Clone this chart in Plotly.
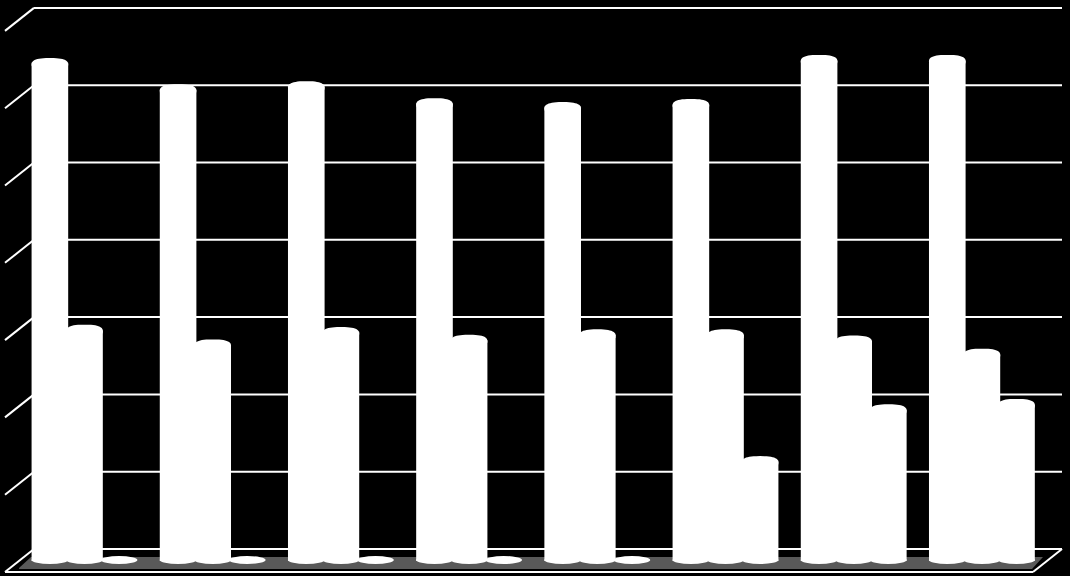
"""Cylinder-style grouped bars on black, with a slanted wall grid and floor."""

import math

import plotly.graph_objects as go

W, H = 1070, 576

categories = [0, 1, 2, 3, 4, 5, 6, 7]
series_a = [64.1, 60.7, 61.1, 58.9, 58.4, 58.8, 64.5, 64.5]
series_b = [29.6, 27.7, 29.3, 28.3, 29.0, 29.0, 28.2, 26.5]
series_c = [0, 0, 0, 0, 0, 12.6, 19.3, 20.0]
grid_ticks = [0, 10, 20, 30, 40, 50, 60, 70]

# Pixel layout of the fake 3D box
PX_PER_UNIT = 7.73
ZERO_PX = 560        # bar baseline
WALL_ZERO_PX = 549   # where tick 0 meets the back wall
WALL_LEFT, WALL_RIGHT = 34, 1062
DEPTH_X, DEPTH_Y = 29, 23
GROUP0_PX, GROUP_STEP_PX = 84.5, 128.2
BAR_W = 0.27         # in category units
CAP_PX, BASE_PX = 6.5, 4
CAP_POWER = 2.6      # >2 flattens the cap, closer to the original's rendering


def paper(px, py):
    return px / W, 1 - py / H


def line(x0, y0, x1, y1):
    ax, ay = paper(x0, y0)
    bx, by = paper(x1, y1)
    return dict(type="line", xref="paper", yref="paper", x0=ax, y0=ay, x1=bx, y1=by,
                layer="below", line=dict(color="white", width=2))


def cap_path(cx, cy, rx, ry):
    pts = []
    for k in range(48):
        a = 2 * math.pi * k / 48
        c, s = math.cos(a), math.sin(a)
        pts.append((cx + rx * math.copysign(abs(c) ** (2 / CAP_POWER), c),
                    cy + ry * math.copysign(abs(s) ** (2 / CAP_POWER), s)))
    return "M " + " L ".join(f"{x:.4f},{y:.4f}" for x, y in pts) + " Z"


shapes = []

# floor first so the grid sits on top of it
pts = [paper(*p) for p in [(19, 568), (31, 557), (1043, 557), (1032, 569), (19, 569)]]
path = "M " + " L ".join(f"{x},{y}" for x, y in pts) + " Z"
shapes.append(dict(type="path", xref="paper", yref="paper", path=path, layer="below",
                   fillcolor="#595959", line=dict(width=0)))

for t in grid_ticks:
    y = WALL_ZERO_PX - t * PX_PER_UNIT
    shapes.append(line(WALL_LEFT, y, WALL_RIGHT, y))
    shapes.append(line(WALL_LEFT - DEPTH_X, y + DEPTH_Y, WALL_LEFT, y))

# front and right edges of the floor
front_y = WALL_ZERO_PX + DEPTH_Y
shapes.append(line(WALL_LEFT - DEPTH_X, front_y, WALL_RIGHT - DEPTH_X, front_y))
shapes.append(line(WALL_RIGHT - DEPTH_X, front_y, WALL_RIGHT, WALL_ZERO_PX))

# caps and bases for the cylinders, from the same values as the bars
pad = 1 / GROUP_STEP_PX
for j, values in enumerate([series_a, series_b, series_c]):
    for cat, v in zip(categories, values):
        cx = cat + (j - 1) * BAR_W
        rx = BAR_W / 2 + pad
        if v:
            shapes.append(dict(type="path", xref="x", yref="y",
                               path=cap_path(cx, v, rx, CAP_PX / PX_PER_UNIT),
                               fillcolor="white", line=dict(width=0)))
        ry = BASE_PX / PX_PER_UNIT
        shapes.append(dict(type="circle", xref="x", yref="y",
                           x0=cx - rx, x1=cx + rx, y0=-ry, y1=ry,
                           fillcolor="white", line=dict(width=0)))

fig = go.Figure()
for name, values in [("A", series_a), ("B", series_b), ("C", series_c)]:
    fig.add_trace(go.Bar(x=categories, y=values, name=name,
                         marker=dict(color="white", line=dict(color="white", width=2))))

fig.update_layout(
    width=W,
    height=H,
    margin=dict(l=0, r=0, t=0, b=0),
    paper_bgcolor="black",
    plot_bgcolor="black",
    barmode="group",
    bargap=1 - 3 * BAR_W,
    bargroupgap=0,
    showlegend=False,
    shapes=shapes,
    xaxis=dict(visible=False, range=[(0 - GROUP0_PX) / GROUP_STEP_PX, (W - GROUP0_PX) / GROUP_STEP_PX]),
    yaxis=dict(visible=False, range=[(ZERO_PX - H) / PX_PER_UNIT, ZERO_PX / PX_PER_UNIT]),
)

fig.write_html("out.html", config=dict(displayModeBar=False),
               post_script="document.body.style.margin='0';document.body.style.background='black';")
